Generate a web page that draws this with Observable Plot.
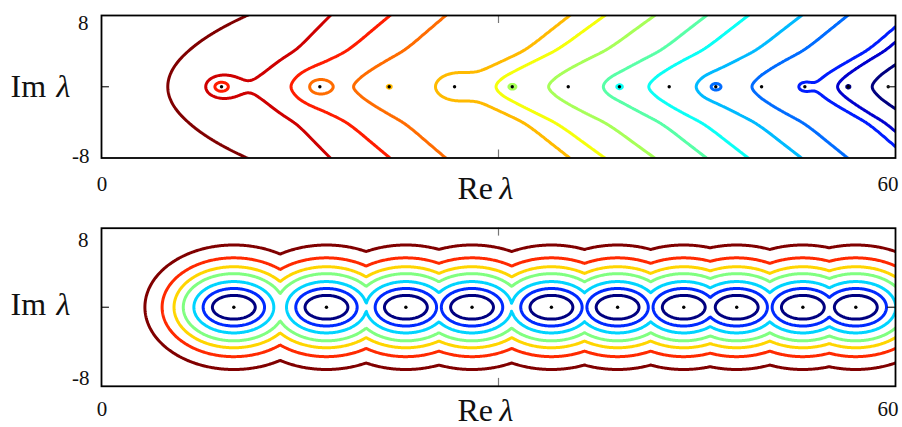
<!DOCTYPE html>
<html><head><meta charset="utf-8">
<script src="https://cdn.jsdelivr.net/npm/d3@7"></script>
<script src="https://cdn.jsdelivr.net/npm/@observablehq/plot@0.6"></script>
<style>body{margin:0;background:#fff}#chart svg{display:block}</style>
</head><body><div id="chart"></div>
<script>
// ---------- data ----------
// top panel: eigenvalues (Re, on the real axis)
const topEigen = [9.07, 16.50, 21.74, 26.68, 31.04, 35.27, 39.14, 42.90, 46.42, 49.88, 53.15, 56.43, 59.45];
// top panel: contour levels (1 = outermost, dark red ... 14 = navy)
const topLevels = [1,2,3,4,5,6,7,8,9,10,11,12,13,14];
// each level curve: Re where it crosses Im = 0 (nose / pinch) and how far right it has moved at Im = ±8
const topNose   = [5.09, 11.6, 14.85, 19.2, 28.0, 30.03, 33.8, 38.22, 41.37, 45.4, 49.18, 54.22, 55.73, 58.25];
const topSpread = [5.9, 5.7, 6.95, 6.8, 7.4, 8.0, 8.0, 7.5, 7.5, 7.5, 7.2, 6.8, 6.5, 6.5];
// typical arm profile: Re offset from the nose at Im = 0,1,...,8
const armIm     = [0, 1, 2, 3, 4, 5, 6, 7, 8];
const armOffset = [0, 0.45, 1.35, 2.45, 3.6, 4.5, 5.3, 6.1, 6.9];
// closed ring / loop around an eigenvalue: its level and radius (0 = none)
const topRingLevel  = [3, 4, 5, 5, 7, 0, 9, 0, 11, 0, 12, 14, 0];
const topRingRadius = [0.5, 0.77, 0.15, 1.44, 0.25, 0, 0.2, 0, 0.35, 0, 0.45, 0.12, 0];
// bottom panel: eigenvalues and contour half-heights (navy ... dark red)
const bottomEigen = [10, 17, 23, 28, 34, 39, 44, 48, 53, 57];
const bottomRadii = [1.2, 1.9, 2.6, 3.4, 4.1, 5.0, 6.3];
// axis tick labels
const xTickLabels = ["0", "60"];
const yTickLabels = ["8", "-8"];

// ---------- helpers ----------
function jet(t) {
  const c = v => Math.round(255 * Math.max(0, Math.min(1, v)));
  return `rgb(${c(1.5 - Math.abs(4*t - 3))},${c(1.5 - Math.abs(4*t - 2))},${c(1.5 - Math.abs(4*t - 1))})`;
}
function interp(arr, k) {
  const n = arr.length;
  const i = Math.max(0, Math.min(n - 2, Math.floor(k) - 1));
  const t = k - (i + 1);
  return arr[i] + t * (arr[i + 1] - arr[i]);
}
// smooth (cubic Hermite, Catmull-Rom tangents) arm profile through armOffset
const nA = armOffset.length, armMax = armOffset[nA - 1];
const armTan = armOffset.map((v, i) => i === 0 ? 0 : i === nA - 1 ? v - armOffset[i - 1]
  : (armOffset[i + 1] - armOffset[i - 1]) / 2);
function armShape(y) {
  const a = Math.abs(y);
  if (a >= armIm[nA - 1]) return (armMax + (a - armIm[nA - 1]) * armTan[nA - 1]) / armMax;
  const i = Math.floor(a), t = a - i;
  const h00 = 2*t**3 - 3*t**2 + 1, h10 = t**3 - 2*t**2 + t, h01 = -2*t**3 + 3*t**2, h11 = t**3 - t**2;
  return (h00 * armOffset[i] + h10 * armTan[i] + h01 * armOffset[i + 1] + h11 * armTan[i + 1]) / armMax;
}
function curveX(k, y) {
  const w = Math.max(0, Math.min(1, 2 - k));            // first curve is parabolic
  const par = (y / 8) ** 2;
  const g = w * par + (1 - w) * armShape(y);
  return interp(topNose, k) + interp(topSpread, k) * g;
}
function kh(x, y) {
  let lo = -4, hi = 22;
  if (x <= curveX(lo, y)) return lo;
  if (x >= curveX(hi, y)) return hi;
  for (let i = 0; i < 30; i++) { const m = (lo + hi) / 2; if (curveX(m, y) < x) lo = m; else hi = m; }
  return (lo + hi) / 2;
}
const beta = 3, R = 5, p = 1.5;
const taper = d => d < R ? (1 - d / R) ** 2 : 0;
const kappa = topEigen.map((e, j) => {
  const L = topRingLevel[j], r = topRingRadius[j];
  if (!L) return 0;
  const bg = beta ** kh(e - r, 0);
  return Math.max(0, beta ** L - bg) * r ** p / taper(r);
});
const cap = topEigen.map((e, j) => topRingLevel[j] ? Math.max(1, beta ** (topRingLevel[j] + 0.6) - beta ** kh(e, 0)) : 0);
function topField(x, y) {
  let N = beta ** kh(x, y);
  for (let j = 0; j < topEigen.length; j++) {
    if (!kappa[j]) continue;
    const d = Math.max(1e-6, Math.hypot(x - topEigen[j], y));
    if (d < R) N += Math.min(kappa[j] * taper(d) / d ** p, cap[j]);
  }
  return Math.log(N) / Math.log(beta);
}
// bottom: elliptical level sets  dx^2/(r+L)^2 + dy^2/r^2 = 1
const segL = 0.42;
function ellR(dx, dy) {
  let lo = 0, hi = Math.hypot(dx, dy) + 1e-9;
  for (let i = 0; i < 28; i++) {
    const m = (lo + hi) / 2;
    const v = m > 0 ? dx * dx / ((m + segL) ** 2) + dy * dy / (m * m) : Infinity;
    if (v > 1) lo = m; else hi = m;
  }
  return (lo + hi) / 2;
}
function bottomField(x, y) {
  let m = Infinity;
  for (const e of bottomEigen) {
    const dx = x - e;
    if (Math.abs(dx) - segL > m) continue;
    m = Math.min(m, ellR(dx, y));
  }
  return m;
}

const serif = "Liberation Serif, Times New Roman, serif";
const label = (text, x, y, o) => Plot.text([text], {x: () => x, y: () => y, text: d => d,
  fontFamily: serif, fill: "#111", ...o});

function panel({field, levels, colors, eig, tick, height, marginTop, marginBottom, labs}) {
  return Plot.plot({
    width: 902, height, marginLeft: 101, marginRight: 7, marginTop, marginBottom,
    style: {background: "#fff", overflow: "visible"},
    x: {domain: [0, 60], axis: null},
    y: {domain: [-8, 8], axis: null},
    color: {type: "ordinal", domain: levels, range: colors},
    marks: [
      Plot.contour({value: field, x1: -3, x2: 63, y1: -11, y2: 11, thresholds: levels,
        stroke: "value", fill: "none", strokeWidth: 3, strokeLinejoin: "round", clip: true, pixelSize: 1}),
      Plot.dot(eig, {x: d => d, y: () => 0, r: 1.7, fill: "#000", stroke: "none"}),
      Plot.ruleY([0], {x1: 0, x2: 0.6, stroke: "#222", strokeWidth: 1.2}),
      Plot.ruleY([0], {x1: 59.4, x2: 60, stroke: "#222", strokeWidth: 1.2}),
      Plot.ruleX([30], {y1: 8, y2: 8 - tick, stroke: "#777", strokeWidth: 1.2}),
      Plot.ruleX([30], {y1: -8, y2: -8 + tick, stroke: "#777", strokeWidth: 1.2}),
      Plot.frame({stroke: "#000", strokeWidth: 1.8}),
      label(yTickLabels[0], 0, 8, {textAnchor: "end", dx: -13, dy: labs.y8, fontSize: 21}),
      label(yTickLabels[1], 0, -8, {textAnchor: "end", dx: -12, dy: labs.ym8, fontSize: 21}),
      label(xTickLabels[0], 0, -8, {dx: 0.5, dy: labs.x, fontSize: 21}),
      label(xTickLabels[1], 60, -8, {dx: -7.5, dy: labs.x, fontSize: 21}),
      label("Im", 0, 0, {textAnchor: "start", dx: -91, dy: labs.im, fontSize: 32}),
      label("λ", 0, 0, {textAnchor: "start", dx: -45, dy: labs.im, fontSize: 32, fontStyle: "italic"}),
      label("Re", 30, -8, {textAnchor: "start", dx: -41, dy: labs.re, fontSize: 32}),
      label("λ", 30, -8, {textAnchor: "start", dx: 1, dy: labs.re, fontSize: 32, fontStyle: "italic"}),
    ]
  });
}

const chart = document.getElementById("chart");
chart.append(panel({
  field: topField, levels: topLevels, colors: topLevels.map(k => jet((14 - k) / 13)), eig: topEigen,
  tick: 0.9, height: 215, marginTop: 15, marginBottom: 57.5,
  labs: {y8: 7.3, ym8: -2.2, x: 25.8, im: -0.4, re: 30.6}
}));
chart.append(panel({
  field: bottomField, levels: bottomRadii, colors: bottomRadii.map((r, i) => jet(i / 6)), eig: bottomEigen,
  tick: 0.8, height: 212, marginTop: 12.7, marginBottom: 41.2,
  labs: {y8: 12.3, ym8: -8.2, x: 22.5, im: -3, re: 24.5}
}));
</script></body></html>
